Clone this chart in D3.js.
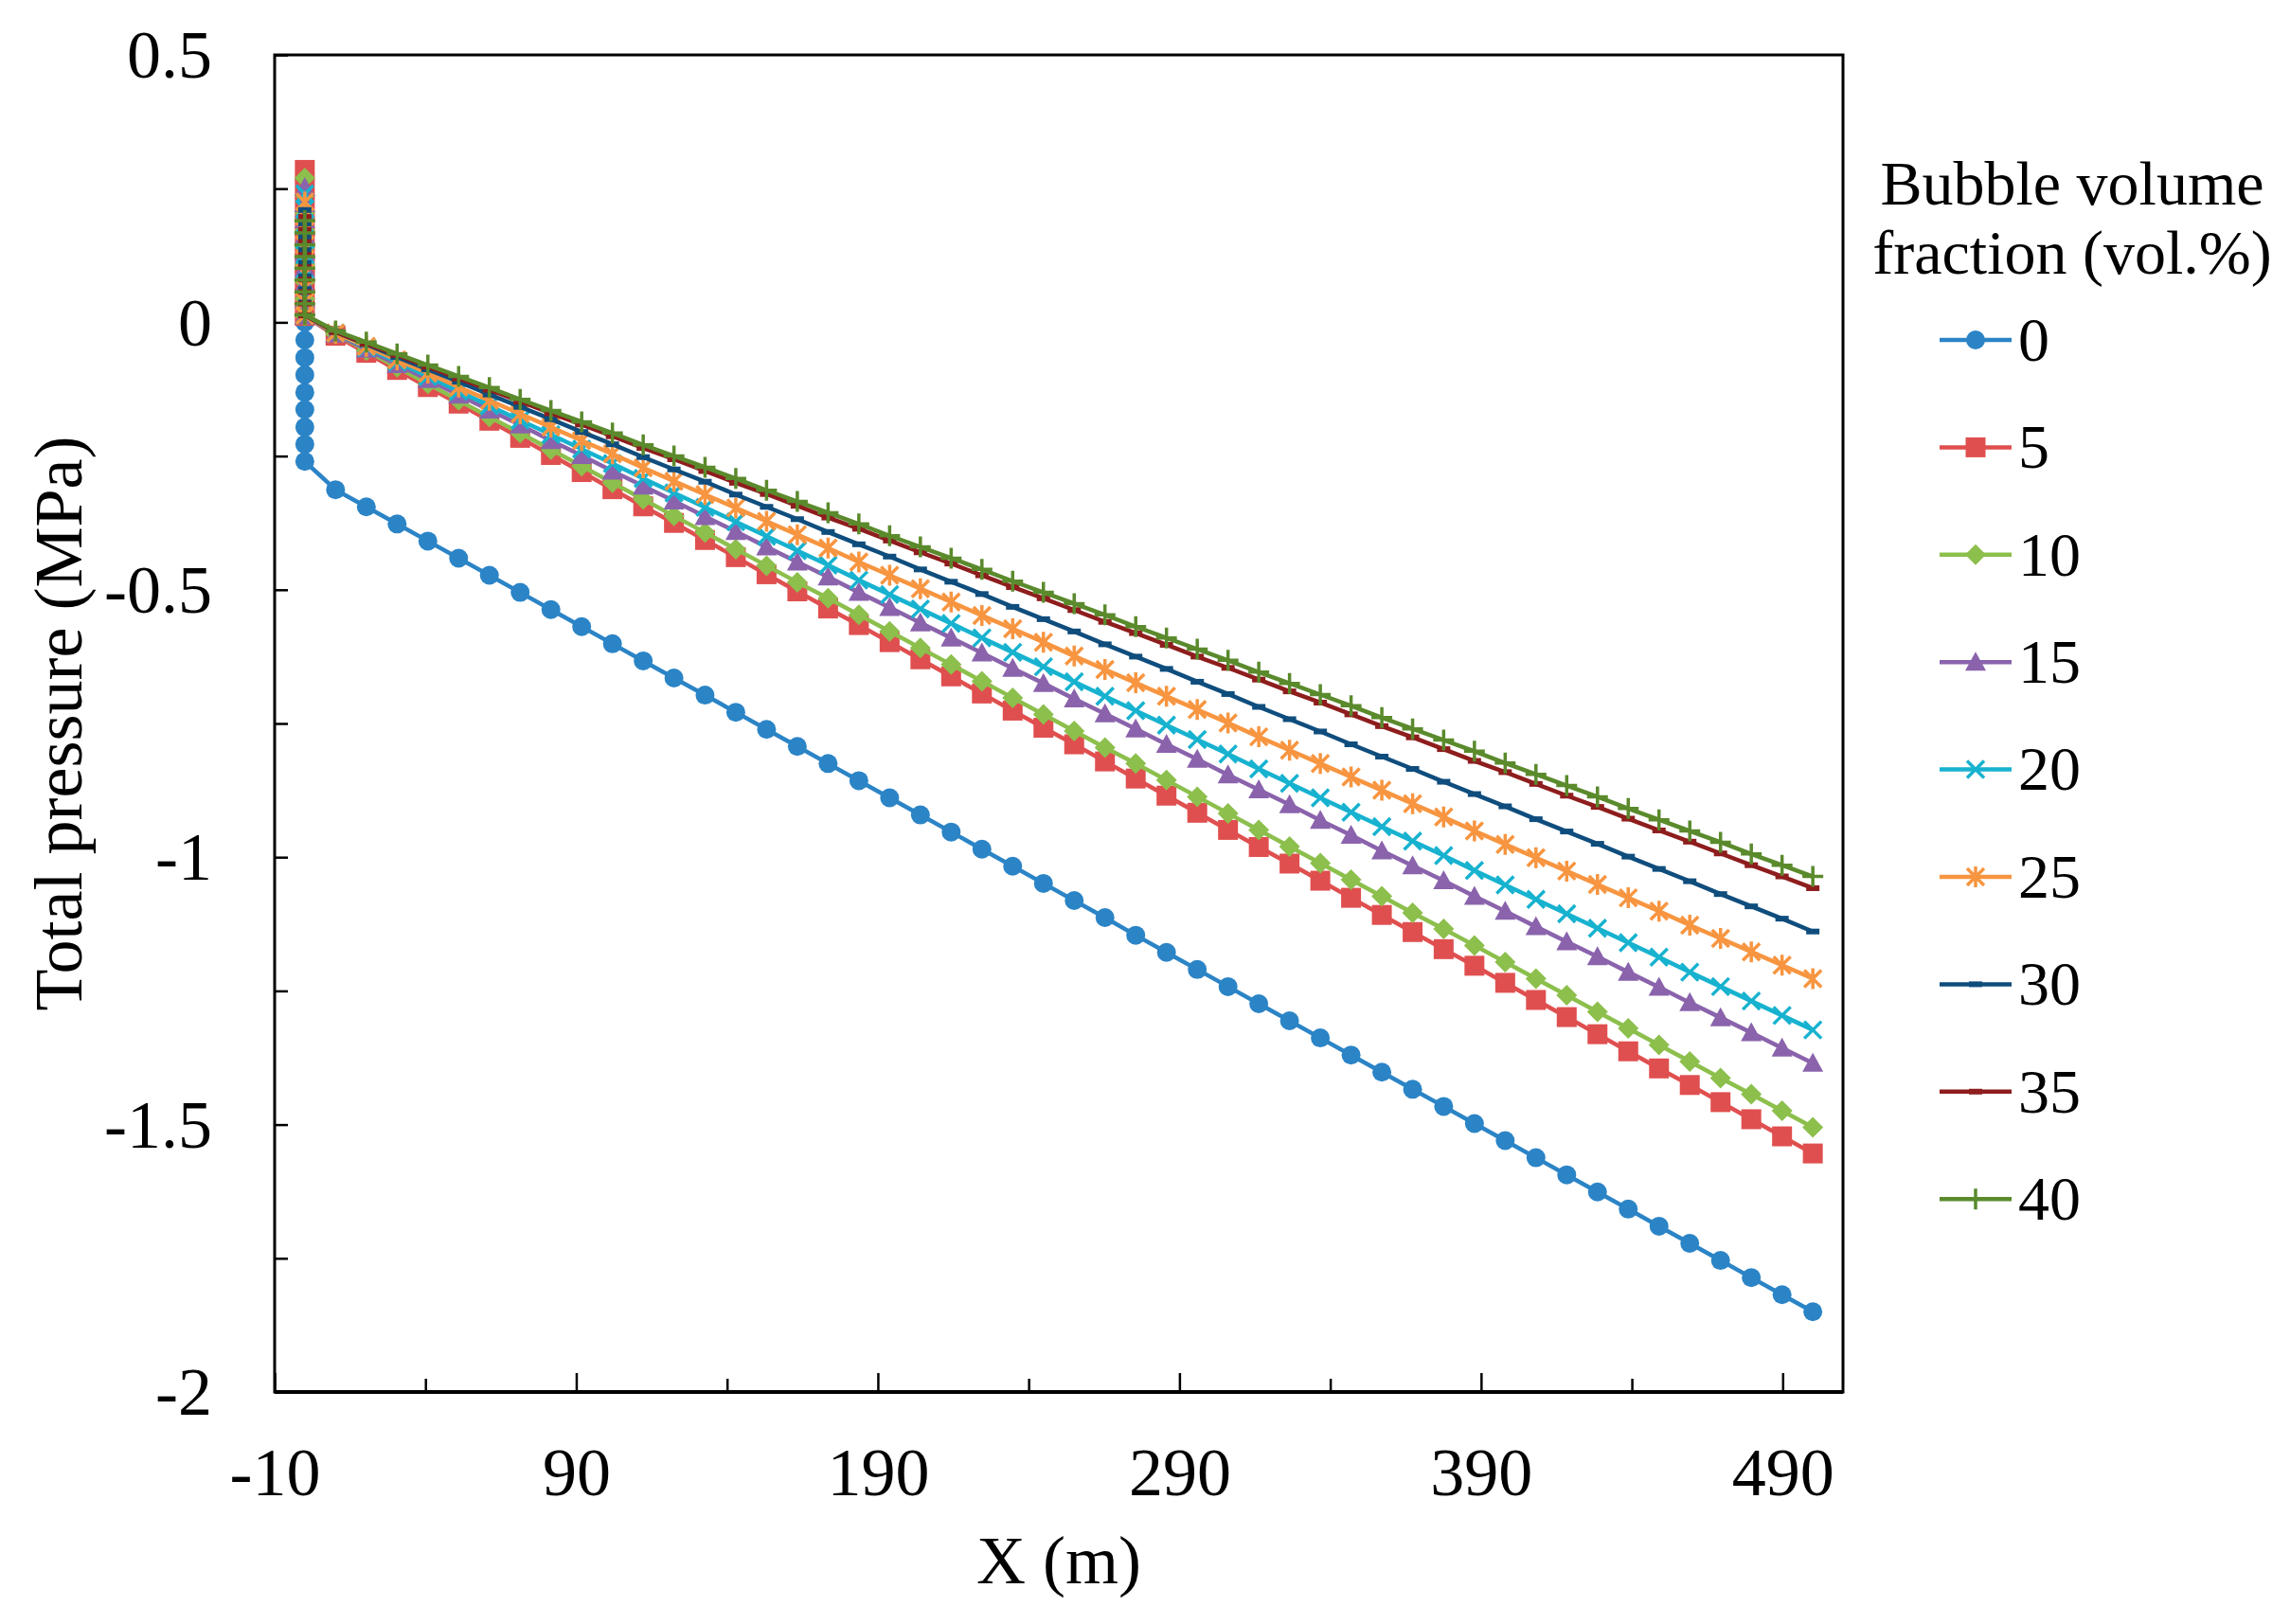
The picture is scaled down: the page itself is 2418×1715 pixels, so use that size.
<!DOCTYPE html>
<html>
<head>
<meta charset="utf-8">
<script src="https://cdn.jsdelivr.net/npm/d3@7"></script>
<style>
  body { margin: 0; background: #fff; }
  svg text { font-family: 'Liberation Serif', 'Times New Roman', serif; fill: #000; }
</style>
</head>
<body>
<div id="vis"></div>
<script>
// Total pressure along the pipe for different bubble volume fractions

// ── Data ────────────────────────────────────────────────────────────────────
var fractions = ['0', '5', '10', '15', '20', '25', '30', '35', '40'];

// distance (m) of the regular points after the inlet
var xDist = [10.2, 20.4, 30.6, 40.8, 51.0, 61.2, 71.4, 81.6, 91.8, 102.0,
  112.2, 122.4, 132.7, 142.9, 153.1, 163.3, 173.5, 183.7, 193.9, 204.1,
  214.3, 224.5, 234.7, 244.9, 255.1, 265.3, 275.5, 285.7, 295.9, 306.1,
  316.3, 326.5, 336.7, 346.9, 357.1, 367.3, 377.6, 387.8, 398.0, 408.2,
  418.4, 428.6, 438.8, 449.0, 459.2, 469.4, 479.6, 489.8, 500.0];

// points stacked at the inlet (x = 0), MPa
var inlet0  = [0.000, -0.033, -0.066, -0.098, -0.131, -0.163, -0.196, -0.228, -0.260];
var inlet5  = [0.285, 0.250, 0.215, 0.180, 0.145, 0.110, 0.078, 0.045, 0.012];
var inlet10 = [0.270, 0.238, 0.205, 0.172, 0.140, 0.108, 0.076, 0.044, 0.012];
var inlet15 = [0.252, 0.222, 0.192, 0.162, 0.132, 0.102, 0.072, 0.042, 0.012];
var inlet20 = [0.240, 0.212, 0.183, 0.155, 0.127, 0.098, 0.070, 0.041, 0.013];
var inlet25 = [0.225, 0.198, 0.172, 0.145, 0.118, 0.092, 0.066, 0.039, 0.013];
var inlet30 = [0.210, 0.185, 0.160, 0.135, 0.111, 0.086, 0.062, 0.037, 0.013];
var inlet35 = [0.197, 0.173, 0.150, 0.126, 0.103, 0.080, 0.057, 0.035, 0.013];
var inlet40 = [0.190, 0.167, 0.145, 0.123, 0.101, 0.079, 0.057, 0.035, 0.014];

// total pressure (MPa) at xDist
var p0 = [-0.313, -0.345, -0.377, -0.409, -0.441, -0.473, -0.505, -0.537, -0.569, -0.601,
  -0.633, -0.665, -0.697, -0.729, -0.761, -0.793, -0.825, -0.857, -0.889, -0.921,
  -0.953, -0.985, -1.017, -1.049, -1.081, -1.113, -1.146, -1.178, -1.210, -1.242,
  -1.274, -1.306, -1.338, -1.370, -1.402, -1.434, -1.466, -1.498, -1.530, -1.562,
  -1.594, -1.626, -1.658, -1.690, -1.722, -1.754, -1.786, -1.818, -1.850];
var p5 = [-0.025, -0.057, -0.089, -0.121, -0.152, -0.184, -0.216, -0.248, -0.280, -0.312,
  -0.344, -0.375, -0.407, -0.439, -0.471, -0.503, -0.535, -0.566, -0.598, -0.630,
  -0.662, -0.694, -0.726, -0.758, -0.789, -0.821, -0.853, -0.885, -0.917, -0.949,
  -0.981, -1.012, -1.044, -1.076, -1.108, -1.140, -1.172, -1.203, -1.235, -1.267,
  -1.299, -1.331, -1.363, -1.395, -1.426, -1.458, -1.490, -1.522, -1.554];
var p10 = [-0.022, -0.053, -0.084, -0.115, -0.146, -0.177, -0.207, -0.238, -0.269, -0.300,
  -0.331, -0.362, -0.393, -0.424, -0.455, -0.486, -0.516, -0.547, -0.578, -0.609,
  -0.640, -0.671, -0.702, -0.733, -0.764, -0.795, -0.825, -0.856, -0.887, -0.918,
  -0.949, -0.980, -1.011, -1.042, -1.073, -1.104, -1.134, -1.165, -1.196, -1.227,
  -1.258, -1.289, -1.320, -1.351, -1.382, -1.413, -1.443, -1.474, -1.505];
var p15 = [-0.022, -0.050, -0.079, -0.107, -0.136, -0.164, -0.192, -0.221, -0.249, -0.278,
  -0.306, -0.334, -0.363, -0.391, -0.420, -0.448, -0.476, -0.505, -0.533, -0.562,
  -0.590, -0.618, -0.647, -0.675, -0.704, -0.732, -0.760, -0.789, -0.817, -0.846,
  -0.874, -0.902, -0.931, -0.959, -0.988, -1.016, -1.044, -1.073, -1.101, -1.130,
  -1.158, -1.186, -1.215, -1.243, -1.272, -1.300, -1.328, -1.357, -1.385];
var p20 = [-0.020, -0.047, -0.074, -0.101, -0.129, -0.156, -0.183, -0.210, -0.237, -0.264,
  -0.292, -0.319, -0.346, -0.373, -0.400, -0.427, -0.454, -0.482, -0.509, -0.536,
  -0.563, -0.590, -0.617, -0.644, -0.672, -0.699, -0.726, -0.753, -0.780, -0.807,
  -0.835, -0.862, -0.889, -0.916, -0.943, -0.970, -0.997, -1.025, -1.052, -1.079,
  -1.106, -1.133, -1.160, -1.187, -1.215, -1.242, -1.269, -1.296, -1.323];
var p25 = [-0.020, -0.045, -0.070, -0.095, -0.121, -0.146, -0.171, -0.196, -0.221, -0.246,
  -0.272, -0.297, -0.322, -0.347, -0.372, -0.397, -0.422, -0.448, -0.473, -0.498,
  -0.523, -0.548, -0.573, -0.598, -0.624, -0.649, -0.674, -0.699, -0.724, -0.749,
  -0.775, -0.800, -0.825, -0.850, -0.875, -0.900, -0.925, -0.951, -0.976, -1.001,
  -1.026, -1.051, -1.076, -1.101, -1.127, -1.152, -1.177, -1.202, -1.227];
var p30 = [-0.018, -0.041, -0.065, -0.088, -0.111, -0.135, -0.158, -0.181, -0.205, -0.228,
  -0.252, -0.275, -0.298, -0.322, -0.345, -0.368, -0.392, -0.415, -0.438, -0.462,
  -0.485, -0.508, -0.532, -0.555, -0.578, -0.602, -0.625, -0.648, -0.672, -0.695,
  -0.719, -0.742, -0.765, -0.789, -0.812, -0.835, -0.859, -0.882, -0.905, -0.929,
  -0.952, -0.975, -0.999, -1.022, -1.045, -1.069, -1.092, -1.115, -1.139];
var p35 = [-0.018, -0.040, -0.061, -0.083, -0.105, -0.126, -0.148, -0.170, -0.191, -0.213,
  -0.235, -0.256, -0.278, -0.300, -0.321, -0.343, -0.365, -0.386, -0.408, -0.430,
  -0.451, -0.473, -0.495, -0.516, -0.538, -0.560, -0.581, -0.603, -0.625, -0.646,
  -0.668, -0.690, -0.711, -0.733, -0.755, -0.776, -0.798, -0.820, -0.841, -0.863,
  -0.885, -0.906, -0.928, -0.950, -0.971, -0.993, -1.015, -1.036, -1.058];
var p40 = [-0.016, -0.037, -0.059, -0.080, -0.101, -0.122, -0.144, -0.165, -0.186, -0.207,
  -0.229, -0.250, -0.271, -0.292, -0.314, -0.335, -0.356, -0.377, -0.399, -0.420,
  -0.441, -0.462, -0.484, -0.505, -0.526, -0.547, -0.569, -0.590, -0.611, -0.632,
  -0.654, -0.675, -0.696, -0.717, -0.739, -0.760, -0.781, -0.802, -0.824, -0.845,
  -0.866, -0.887, -0.909, -0.930, -0.951, -0.972, -0.994, -1.015, -1.036];

var inlets = [inlet0, inlet5, inlet10, inlet15, inlet20, inlet25, inlet30, inlet35, inlet40];
var pressures = [p0, p5, p10, p15, p20, p25, p30, p35, p40];

var xMajorTicks = [-10, 90, 190, 290, 390, 490];
var xMinorTicks = [40, 140, 240, 340, 440];
var yTicks = [0.5, 0.25, 0, -0.25, -0.5, -0.75, -1, -1.25, -1.5, -1.75, -2];
var yTickLabels = { '0.5': '0.5', '0': '0', '-0.5': '-0.5', '-1': '-1', '-1.5': '-1.5', '-2': '-2' };

// ── Styling ─────────────────────────────────────────────────────────────────
var colors  = ['#2b84c6', '#e04f4f', '#8cbf4c', '#8a63ac', '#17b2cf', '#f79540', '#0f4d7d', '#8e1d1d', '#5a8a2c'];
var markers = ['circle', 'square', 'diamond', 'triangle', 'x', 'star', 'dash', 'dash', 'plus'];

var W = 2418, H = 1715;
var margin = { top: 58, right: 472, bottom: 245, left: 290 };
var width  = W - margin.left - margin.right;
var height = H - margin.top - margin.bottom;

var xScale = d3.scaleLinear().domain([-10, 510]).range([0, width]);
var yScale = d3.scaleLinear().domain([-2, 0.5]).range([height, 0]);

var svg = d3.select('#vis').append('svg')
  .attr('width', W)
  .attr('height', H);

var vis = svg.append('g')
  .attr('transform', `translate(${margin.left},${margin.top})`);

// build one row list per series: inlet column, then the regular points
var series = fractions.map(function (f, k) {
  var pts = inlets[k].map(function (v) { return { x: 0, y: v }; });
  pressures[k].forEach(function (v, i) { pts.push({ x: xDist[i], y: v }); });
  return { name: f, color: colors[k], marker: markers[k], points: pts };
});

// marker shape drawn around (0,0)
function drawMarker(sel, type, color) {
  if (type === 'circle') {
    sel.append('circle').attr('r', 10).attr('fill', color);
  } else if (type === 'square') {
    sel.append('rect').attr('x', -10.5).attr('y', -10.5).attr('width', 21).attr('height', 21).attr('fill', color);
  } else if (type === 'diamond') {
    sel.append('path').attr('d', 'M0,-11L11,0L0,11L-11,0Z').attr('fill', color);
  } else if (type === 'triangle') {
    sel.append('path').attr('d', 'M0,-11L11,9L-11,9Z').attr('fill', color);
  } else if (type === 'x') {
    sel.append('path').attr('d', 'M-9,-9L9,9M-9,9L9,-9')
      .attr('stroke', color).attr('stroke-width', 3.5).attr('fill', 'none');
  } else if (type === 'star') {
    sel.append('path').attr('d', 'M-9,-9L9,9M-9,9L9,-9M0,-11L0,11')
      .attr('stroke', color).attr('stroke-width', 3.5).attr('fill', 'none');
  } else if (type === 'dash') {
    sel.append('rect').attr('x', -7).attr('y', -3).attr('width', 14).attr('height', 6).attr('fill', color);
  } else if (type === 'plus') {
    sel.append('path').attr('d', 'M-11,0L11,0M0,-11L0,11')
      .attr('stroke', color).attr('stroke-width', 3.5).attr('fill', 'none');
  }
}

// ── Axes ────────────────────────────────────────────────────────────────────
vis.append('g').attr('class', 'axis x-axis')
  .attr('transform', `translate(0,${height})`)
  .call(d3.axisBottom(xScale).tickValues(xMajorTicks).tickSize(-20).tickPadding(58)
    .tickFormat(d => String(d)));
vis.append('g').attr('class', 'axis x-minor')
  .attr('transform', `translate(0,${height})`)
  .call(d3.axisBottom(xScale).tickValues(xMinorTicks).tickSize(-14).tickFormat(''));
vis.append('g').attr('class', 'axis y-axis')
  .call(d3.axisLeft(yScale).tickValues(yTicks).tickSize(-14).tickPadding(66)
    .tickFormat(d => yTickLabels[String(d)] || ''));

vis.selectAll('.axis .domain').remove();
vis.selectAll('.axis line').attr('stroke', '#000').attr('stroke-width', 2.5);
vis.selectAll('.axis text').attr('font-size', 72).attr('fill', '#000');
vis.selectAll('.y-axis text').attr('dy', '0.33em');

// plot frame
vis.append('rect')
  .attr('width', width).attr('height', height)
  .attr('fill', 'none').attr('stroke', '#000').attr('stroke-width', 3);
vis.append('line')
  .attr('x1', 0).attr('x2', width).attr('y1', height).attr('y2', height)
  .attr('stroke', '#000').attr('stroke-width', 4);

// axis titles
vis.append('text')
  .attr('text-anchor', 'middle')
  .attr('x', width / 2)
  .attr('y', height + 202)
  .attr('font-size', 72)
  .text('X (m)');
vis.append('text')
  .attr('text-anchor', 'middle')
  .attr('transform', 'rotate(-90)')
  .attr('x', -height / 2)
  .attr('y', -204)
  .attr('font-size', 72)
  .text('Total pressure (MPa)');

// ── Series ──────────────────────────────────────────────────────────────────
var line = d3.line().x(d => xScale(d.x)).y(d => yScale(d.y));

var sg = vis.selectAll('g.series').data(series).join('g').attr('class', 'series');

sg.append('path')
  .attr('d', d => line(d.points))
  .attr('fill', 'none')
  .attr('stroke', d => d.color)
  .attr('stroke-width', 4.5)
  .attr('stroke-linejoin', 'round');

sg.each(function (s) {
  d3.select(this).selectAll('g.mk').data(s.points).join('g')
    .attr('class', 'mk')
    .attr('transform', d => `translate(${xScale(d.x)},${yScale(d.y)})`)
    .each(function () { drawMarker(d3.select(this), s.marker, s.color); });
});

// ── Legend ──────────────────────────────────────────────────────────────────
var legend = svg.append('g').attr('class', 'legend');

legend.append('text')
  .attr('text-anchor', 'middle').attr('x', 2188).attr('y', 216)
  .attr('font-size', 66).text('Bubble volume');
legend.append('text')
  .attr('text-anchor', 'middle').attr('x', 2188).attr('y', 289)
  .attr('font-size', 66).text('fraction (vol.%)');

var items = legend.selectAll('g.item').data(series).join('g')
  .attr('class', 'item')
  .attr('transform', (d, i) => `translate(2048,${359 + i * 113.4})`);

items.append('line')
  .attr('x1', 0).attr('x2', 76).attr('y1', 0).attr('y2', 0)
  .attr('stroke', d => d.color).attr('stroke-width', 4.5);
items.append('g')
  .attr('transform', 'translate(38,0)')
  .each(function (d) { drawMarker(d3.select(this), d.marker, d.color); });
items.append('text')
  .attr('x', 83).attr('dy', '0.33em')
  .attr('font-size', 66)
  .text(d => d.name);
</script>
</body>
</html>
